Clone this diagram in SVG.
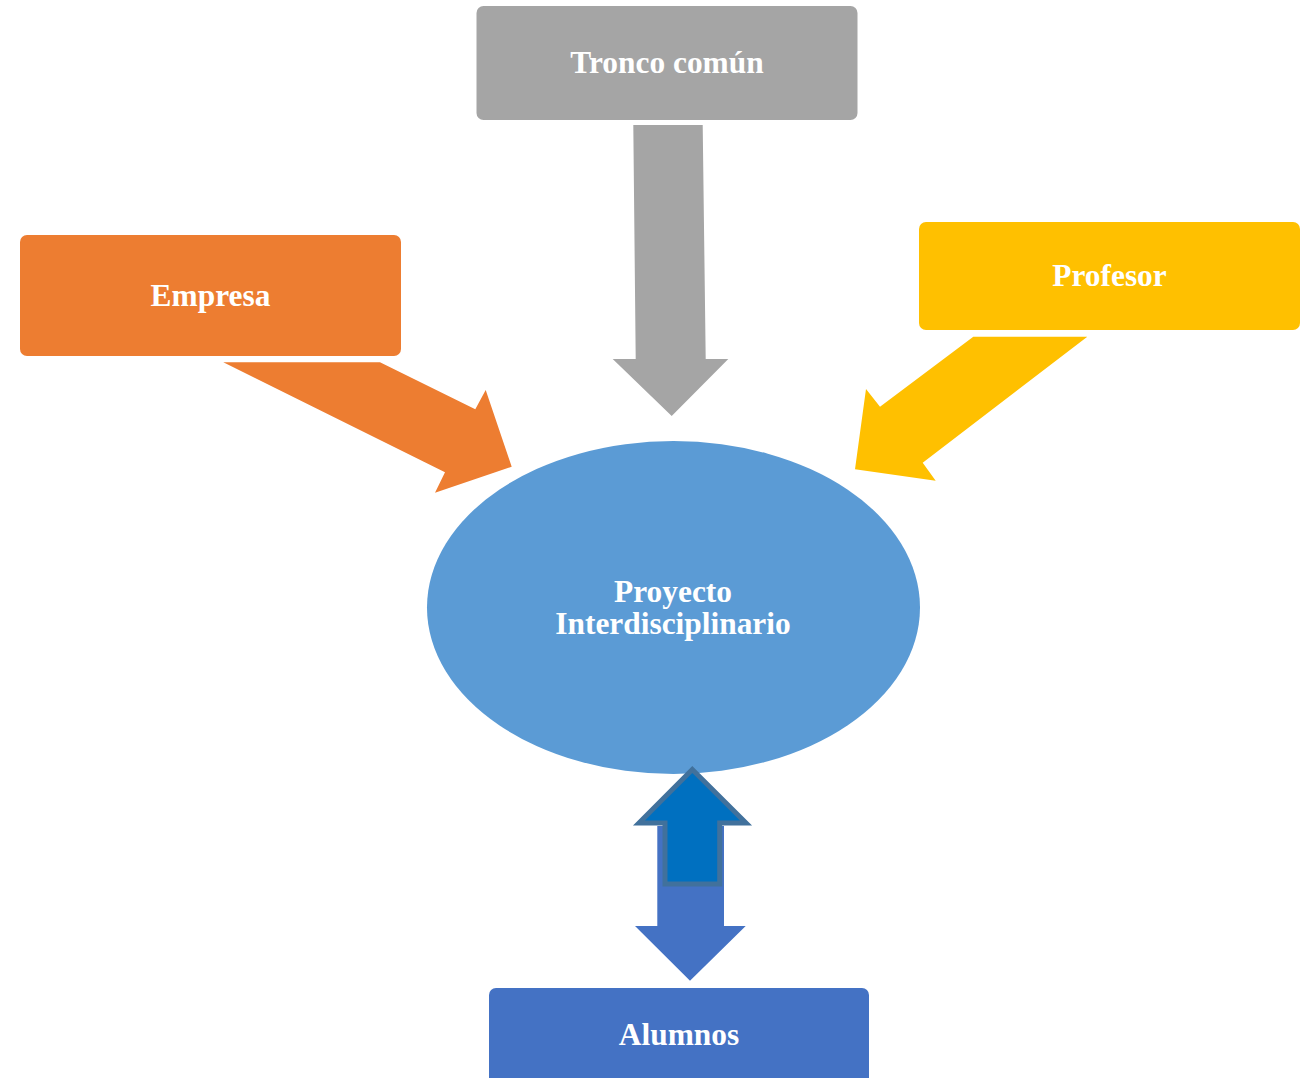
<svg xmlns="http://www.w3.org/2000/svg" width="1307" height="1078" viewBox="0 0 1307 1078">
<style>
.lbl{font-family:"Liberation Serif","Times New Roman",serif;font-weight:bold;font-size:31.4px;fill:#ffffff;text-anchor:middle}
</style>
<rect width="1307" height="1078" fill="#ffffff"/>
<g id="connectors">
<path id="arrow-tronco" d="M633.3,125 L702.7,125 L705.7,359 L728.3,359 L671.7,416 L612.7,359 L635.7,359 Z" fill="#A5A5A5"/>
<path id="arrow-empresa" d="M223.3,362.3 L380,362.3 L475.3,409.3 L485.7,390 L511.7,466.7 L435,492.7 L445,472.3 Z" fill="#ED7D31"/>
<path id="arrow-profesor" d="M973.3,336.7 L1087.3,336.7 L922.7,462.7 L935.7,480.7 L855,469.3 L866,389 L880,406.7 Z" fill="#FFC000"/>
</g>
<g id="proyecto">
<ellipse cx="673.5" cy="607.5" rx="246.5" ry="166.5" fill="#5B9BD5"/>
<text class="lbl" x="673" y="601.5">Proyecto</text>
<text class="lbl" x="673" y="633.5">Interdisciplinario</text>
</g>
<g id="connectors-alumnos">
<path id="arrow-down" d="M657.3,826 L724,826 L724,926 L745.7,926 L690,980.7 L635,926 L657.3,926 Z" fill="#4472C4"/>
<path id="arrow-up" d="M692.3,769.5 L639,823 L665,823 L665,884 L719.7,884 L719.7,823 L746,823 Z" fill="#0070C0" stroke="#41719C" stroke-width="5" stroke-linejoin="miter"/>
</g>
<g id="tronco">
<rect x="476.5" y="6" width="381" height="114" rx="7" fill="#A5A5A5"/>
<text class="lbl" x="667" y="73">Tronco común</text>
</g>
<g id="empresa">
<rect x="20" y="235" width="381" height="121" rx="7" fill="#ED7D31"/>
<text class="lbl" x="210.5" y="306">Empresa</text>
</g>
<g id="profesor">
<rect x="919" y="222" width="381" height="108" rx="7" fill="#FFC000"/>
<text class="lbl" x="1109.5" y="286">Profesor</text>
</g>
<g id="alumnos">
<rect x="489" y="988" width="380" height="120" rx="7" fill="#4472C4"/>
<text class="lbl" x="679" y="1045">Alumnos</text>
</g>
</svg>
